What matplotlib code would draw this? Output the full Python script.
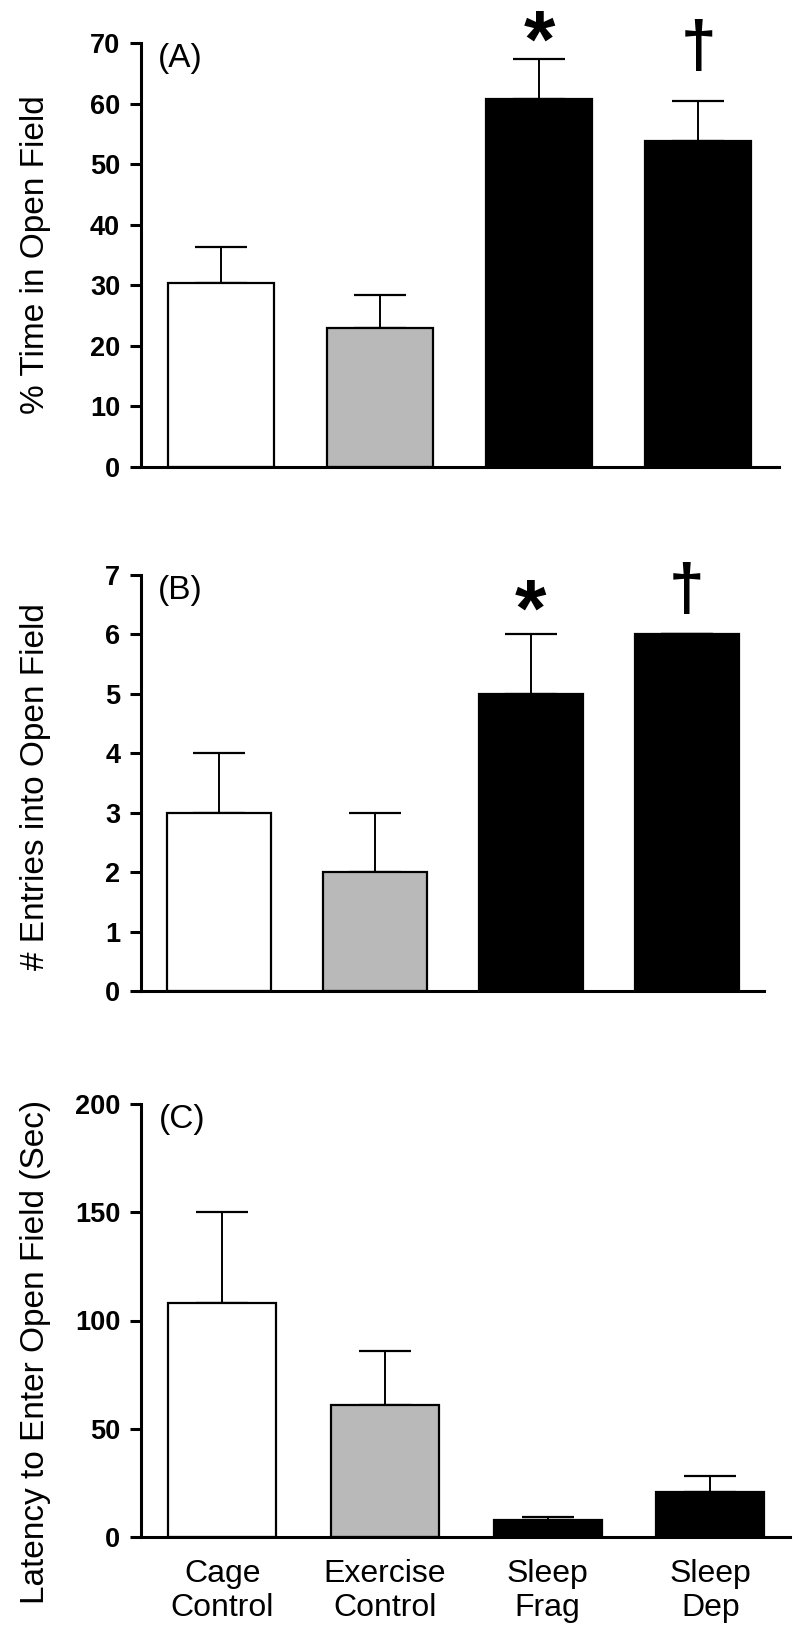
import numpy as np
import matplotlib
matplotlib.use("Agg")
import matplotlib.pyplot as plt

###############################################
############ [Datos] ##########################
###############################################
grupos = ["Cage\nControl", "Exercise\nControl", "Sleep\nFrag", "Sleep\nDep"]
colores = ["white", "#b9b9b9", "black", "black"]

tiempo_media = [30.3, 23.0, 60.7, 53.8]
tiempo_err = [6.1, 5.4, 6.6, 6.7]

entradas_media = [3, 2, 5, 6]
entradas_err = [1, 1, 1, 0]

latencia_media = [108, 61, 8, 21]
latencia_err = [42, 25, 1.2, 7.4]

plt.rcParams['font.family'] = ['Liberation Sans', 'DejaVu Sans']

W, H = 800, 1637
fig = plt.figure(figsize=(W / 100, H / 100), dpi=100)


def eje(left_px, top_px, right_px, bottom_px):
 return fig.add_axes([left_px / W, 1 - bottom_px / H,
                      (right_px - left_px) / W, (bottom_px - top_px) / H])


def panel(ax, medias, errs, ymax, paso, letra, xr):
 x = np.arange(len(medias))
 ax.bar(x, medias, width=0.665, color=colores, edgecolor="black",
        linewidth=1.6, zorder=2)
 ax.errorbar(x, medias, yerr=[np.zeros(len(errs)), errs], fmt="none",
             ecolor="black", elinewidth=1.4, capsize=19, capthick=1.6,
             zorder=1)
 ax.set_xlim(-0.5, xr)
 ax.set_ylim(0, ymax)
 ax.set_yticks(np.arange(0, ymax + paso / 2, paso))
 for s in ["top", "right"]:
  ax.spines[s].set_visible(False)
 for s in ["left", "bottom"]:
  ax.spines[s].set_linewidth(2.2)
 ax.tick_params(axis="y", direction="out", length=8, width=2.2, pad=7,
                labelsize=19.5)
 for t in ax.get_yticklabels():
  t.set_fontweight("bold")
 ax.tick_params(axis="x", length=0)
 ax.set_xticks(x)
 ax.set_xticklabels([])
 ax.text(0.027, 1.0, letra, transform=ax.transAxes, ha="left", va="top",
         fontsize=24)
 return x


###############################################
############ [Panel A] ########################
###############################################
axA = eje(141, 43, 779, 467)
panel(axA, tiempo_media, tiempo_err, 70, 10, "(A)", 3.506)
axA.text(2, 69.5, "*", ha="center", va="center", fontsize=58,
         fontweight="bold", clip_on=False)
axA.text(3, 69.0, "\u2020", ha="center", va="center", fontsize=46,
         fontweight="bold", clip_on=False)

###############################################
############ [Panel B] ########################
###############################################
axB = eje(141, 575, 764, 991)
panel(axB, entradas_media, entradas_err, 7, 1, "(B)", 3.495)
axB.text(2, 6.33, "*", ha="center", va="center", fontsize=58,
         fontweight="bold", clip_on=False)
axB.text(3, 6.72, "\u2020", ha="center", va="center", fontsize=46,
         fontweight="bold", clip_on=False)

###############################################
############ [Panel C] ########################
###############################################
axC = eje(141, 1104, 790, 1537)
xC = panel(axC, latencia_media, latencia_err, 200, 50, "(C)", 3.49)
axC.set_xticklabels(grupos, fontsize=23, linespacing=1.15)
axC.tick_params(axis="x", pad=16)

###############################################
############ [Etiquetas Y] ####################
###############################################
fig.text(36 / W, 1 - 255 / H, "% Time in Open Field", rotation=90,
         ha="center", va="center", fontsize=24)
fig.text(36 / W, 1 - 787 / H, "# Entries into Open Field", rotation=90,
         ha="center", va="center", fontsize=24)
fig.text(36 / W, 1 - 1352 / H, "Latency to Enter Open Field (Sec)",
         rotation=90, ha="center", va="center", fontsize=24)

fig.savefig("out.png", dpi=100)
